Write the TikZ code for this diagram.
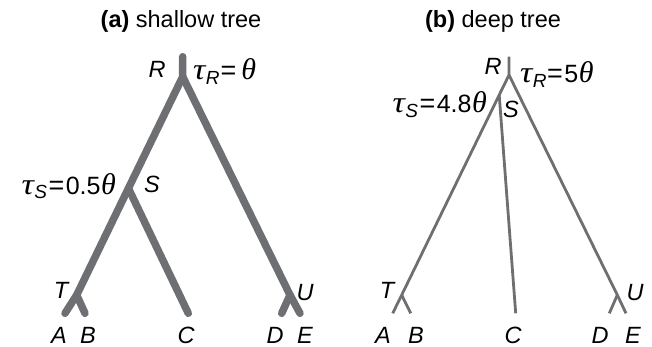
\documentclass[tikz,border=0pt]{standalone}
\usepackage{fontspec}
\usepackage{graphicx}
\setmainfont{Liberation Sans}
\newfontfamily\grk{Liberation Serif}
\definecolor{branch}{RGB}{110,111,114}
\newcommand{\mtau}[1]{{\fontsize{30}{32}\selectfont\grk\itshape\scalebox{1.15}[1]{τ}}\kern0.3pt\raisebox{-5pt}{\fontsize{19}{20}\selectfont\itshape #1}}
\newcommand{\mtheta}{{\fontsize{30}{32}\selectfont\grk\itshape θ}}
\newcommand{\meq}{{\fontsize{27}{30}\selectfont =}}
\begin{document}
\begin{tikzpicture}[x=1pt,y=-1pt,
  thick tree/.style={draw=branch,line width=7.5pt,line cap=round,line join=round},
  thin tree/.style={draw=branch,line width=2.8pt,line cap=butt,line join=miter},
  lbl/.style={inner sep=0pt,anchor=base,font=\fontsize{23.5}{26}\selectfont\itshape},
  mathlbl/.style={inner sep=0pt,font=\fontsize{25}{28}\selectfont},
  ttl/.style={inner sep=0pt,anchor=base,font=\fontsize{23.5}{26}\selectfont}]
\useasboundingbox (0,0) rectangle (652,347);
% ---------- (a) shallow tree ----------
\node[ttl] (ta) at (181,28) {\textbf{(a)} shallow tree};
\coordinate (aTop) at (182.7,56.7);
\coordinate (aR) at (182.7,76.7);
\coordinate (aS) at (128.4,188.3);
\coordinate (aT) at (76.7,295);
\coordinate (aU) at (290,295);
\coordinate (aA) at (65,313.3);
\coordinate (aB) at (85,313.3);
\coordinate (aC) at (188.3,313.3);
\coordinate (aD) at (281.7,313.3);
\coordinate (aE) at (300,313.3);
\draw[thick tree] (aTop) -- (aR) -- (aS) -- (aT) -- (aA);
\draw[thick tree] (aT) -- (aB);
\draw[thick tree] (aS) -- (aC);
\draw[thick tree] (aR) -- (aU) -- (aE);
\draw[thick tree] (aU) -- (aD);
\node[lbl] (laR) at (157,78) {R};
\node[lbl] (laS) at (152,193) {S};
\node[lbl] (laT) at (61,298) {T};
\node[lbl] (laU) at (305,300) {U};
\node[lbl] (laA) at (59,343) {A};
\node[lbl] (laB) at (88,343) {B};
\node[lbl] (laC) at (186,343) {C};
\node[lbl] (laD) at (275,343) {D};
\node[lbl] (laE) at (305,343) {E};
\node[mathlbl,anchor=base west] (tauaR) at (193,80) {\mtau{R}\kern1pt\meq\kern5pt\mtheta};
\node[mathlbl,anchor=base east] (tauaS) at (116,194) {\mtau{S}\kern1.5pt\meq\kern1.5pt0.5\kern0.5pt\mtheta};
% ---------- (b) deep tree ----------
\node[ttl] (tb) at (493,28) {\textbf{(b)} deep tree};
\coordinate (bTop) at (509,56.7);
\coordinate (bR) at (509,75);
\coordinate (bS) at (499.2,95);
\coordinate (bT) at (401.7,295);
\coordinate (bU) at (617.3,295);
\coordinate (bA) at (392.7,313.3);
\coordinate (bB) at (410.7,313.3);
\coordinate (bC) at (515.7,313.3);
\coordinate (bD) at (609.3,313.3);
\coordinate (bE) at (626,313.3);
\draw[thin tree] (bTop) -- (bR) -- (bS) -- (bT) -- (bA);
\draw[thin tree] (bT) -- (bB);
\draw[thin tree] (bS) -- (bC);
\draw[thin tree] (bR) -- (bU) -- (bE);
\draw[thin tree] (bU) -- (bD);
\node[lbl] (lbR) at (493,75) {R};
\node[lbl] (lbS) at (511,118) {S};
\node[lbl] (lbT) at (387,298) {T};
\node[lbl] (lbU) at (635,300) {U};
\node[lbl] (lbA) at (383,343) {A};
\node[lbl] (lbB) at (416,343) {B};
\node[lbl] (lbC) at (513,343) {C};
\node[lbl] (lbD) at (600,343) {D};
\node[lbl] (lbE) at (633,343) {E};
\node[mathlbl,anchor=base west] (taubR) at (520,83) {\mtau{R}\kern0.5pt\meq\kern1.5pt5\kern0.5pt\mtheta};
\node[mathlbl,anchor=base east] (taubS) at (487,113) {\mtau{S}\kern1.5pt\meq\kern1.5pt4.8\kern0.5pt\mtheta};
\end{tikzpicture}
\end{document}
